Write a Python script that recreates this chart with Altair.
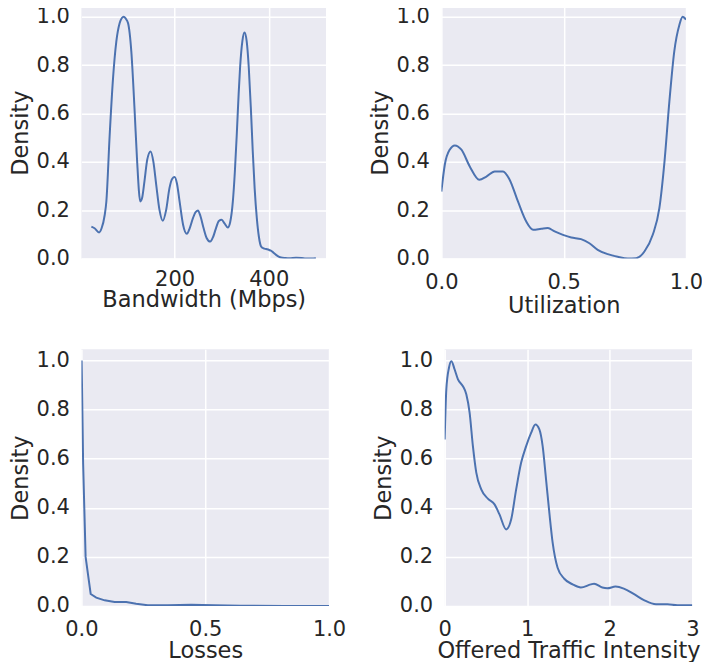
import altair as alt
import pandas as pd

# ---- data ----
bw_x = [23.3, 30, 39.6, 45, 51.6, 55.1, 62.2, 69.3, 76.3, 83.4, 88, 91.9, 96, 101.1, 108.1, 115.2, 120.1, 127.2,
        131, 136, 142, 149, 155, 161, 168, 175, 182, 189, 195, 200, 205, 210.6, 218, 226, 232, 239, 244, 249.5,
        255, 261.5, 268, 275.6, 282, 288, 294, 300, 306, 313, 318, 323.7, 328, 332, 336, 339, 344, 348.4, 353,
        357.6, 362, 366, 370, 374.6, 379, 383.7, 389, 394.3, 400, 405, 410, 415.5, 421, 426, 435, 443.8, 458,
        470, 479, 490, 500]
bw_y = [0.132, 0.125, 0.108, 0.125, 0.18, 0.236, 0.512, 0.746, 0.898, 0.974, 0.995, 1.0, 0.993, 0.974, 0.857,
        0.608, 0.415, 0.236, 0.25, 0.319, 0.41, 0.443, 0.4, 0.305, 0.2, 0.156, 0.2, 0.29, 0.33, 0.337, 0.31,
        0.236, 0.14, 0.102, 0.125, 0.167, 0.19, 0.199, 0.175, 0.126, 0.085, 0.07, 0.09, 0.126, 0.155, 0.16,
        0.145, 0.128, 0.15, 0.236, 0.36, 0.512, 0.68, 0.788, 0.9, 0.935, 0.9, 0.788, 0.62, 0.443, 0.29, 0.167,
        0.09, 0.05, 0.042, 0.039, 0.036, 0.032, 0.024, 0.015, 0.008, 0.004, 0.002, 0.001, 0.003, 0.002, 0.0,
        0.0, 0.001]

ut_x = [0.0, 0.014, 0.034, 0.055, 0.082, 0.116, 0.155, 0.184, 0.218, 0.252, 0.279, 0.313, 0.347, 0.375, 0.408,
        0.435, 0.463, 0.497, 0.531, 0.571, 0.605, 0.639, 0.68, 0.721, 0.762, 0.796, 0.83, 0.864, 0.891, 0.912,
        0.932, 0.952, 0.973, 0.986, 1.0]
ut_y = [0.277, 0.388, 0.45, 0.468, 0.45, 0.381, 0.326, 0.339, 0.36, 0.36, 0.326, 0.236, 0.153, 0.119, 0.123,
        0.126, 0.112, 0.098, 0.087, 0.08, 0.063, 0.036, 0.018, 0.007, 0.0, 0.001, 0.029, 0.098, 0.208, 0.401,
        0.65, 0.857, 0.967, 1.0, 0.988]

ls_x = [0.001, 0.007, 0.017, 0.0375, 0.06, 0.094, 0.134, 0.181, 0.221, 0.268, 0.349, 0.443, 0.537, 0.644, 0.82, 1.0]
ls_y = [1.0, 0.58, 0.2, 0.049, 0.034, 0.023, 0.016, 0.016, 0.0095, 0.003, 0.003, 0.005, 0.003, 0.0014, 0.0, 0.0]

ot_x = [0.0, 0.02, 0.052, 0.081, 0.121, 0.161, 0.221, 0.262, 0.302, 0.342, 0.383, 0.443, 0.523, 0.604, 0.664,
        0.745, 0.806, 0.866, 0.926, 0.987, 1.047, 1.099, 1.147, 1.187, 1.228, 1.268, 1.308, 1.368, 1.449, 1.55,
        1.65, 1.77, 1.81, 1.91, 1.97, 2.07, 2.17, 2.3, 2.42, 2.56, 2.7, 2.82, 3.0]
ot_y = [0.678, 0.882, 0.97, 0.997, 0.963, 0.923, 0.895, 0.862, 0.787, 0.651, 0.543, 0.475, 0.437, 0.414, 0.373,
        0.312, 0.353, 0.475, 0.583, 0.651, 0.705, 0.739, 0.719, 0.651, 0.516, 0.38, 0.258, 0.156, 0.111, 0.088,
        0.075, 0.088, 0.091, 0.075, 0.072, 0.079, 0.071, 0.047, 0.023, 0.007, 0.007, 0.003, 0.003]

BLUE = "#4C72B0"
YTICKS = [0.0, 0.2, 0.4, 0.6, 0.8, 1.0]


def panel(xs, ys, title, xdom, xticks, xfmt, w, h, ytop, xlabpad, xtitlepad, interp="monotone"):
    df = pd.DataFrame({"x": xs, "y": ys})
    return alt.Chart(df).mark_line(color=BLUE, strokeWidth=2, interpolate=interp, clip=True).encode(
        x=alt.X("x:Q", title=title,
                scale=alt.Scale(domain=xdom, nice=False, zero=False),
                axis=alt.Axis(values=xticks, format=xfmt, labelPadding=xlabpad, titlePadding=xtitlepad)),
        y=alt.Y("y:Q", title="Density",
                scale=alt.Scale(domain=[0, ytop], nice=False, zero=False),
                axis=alt.Axis(values=YTICKS, format=".1f")),
    ).properties(width=w, height=h)


p1 = panel(bw_x, bw_y, "Bandwidth (Mbps)", [2.1, 521.6], [200, 400], "d", 245, 252, 1.041, 10, -1)
p2 = panel(ut_x, ut_y, "Utilization", [0, 1], [0.0, 0.5, 1.0], ".1f", 245, 252, 1.041, 13.4, 2)
p3 = panel(ls_x, ls_y, "Losses", [0, 1], [0.0, 0.5, 1.0], ".1f", 248, 257, 1.045, 13, 0, "linear")
p4 = panel(ot_x, ot_y, "Offered Traffic Intensity", [0, 3], [0, 1, 2, 3], "d", 248, 257, 1.045, 13, 0)

top = alt.hconcat(p1, p2, spacing=42.5)
bottom = alt.hconcat(p3, p4, spacing=25.8)

chart = alt.vconcat(top, bottom, spacing=32).properties(
    padding={"left": 0.5, "top": -3.6, "right": -1.5, "bottom": -1}
).configure_view(
    fill="#EAEAF2", stroke=None
).configure_axis(
    grid=True, gridColor="white", gridWidth=1.5, domain=False, ticks=False, tickSize=0,
    labelFont="DejaVu Sans", titleFont="DejaVu Sans", labelFontSize=21, titleFontSize=22.5,
    labelColor="#262626", titleColor="#262626", titleFontWeight="normal", labelFlush=False,
    labelOverlap=False
).configure_axisY(
    labelPadding=12, titlePadding=4
)

chart.save("out.html", embed_options={"renderer": "svg", "actions": False})
